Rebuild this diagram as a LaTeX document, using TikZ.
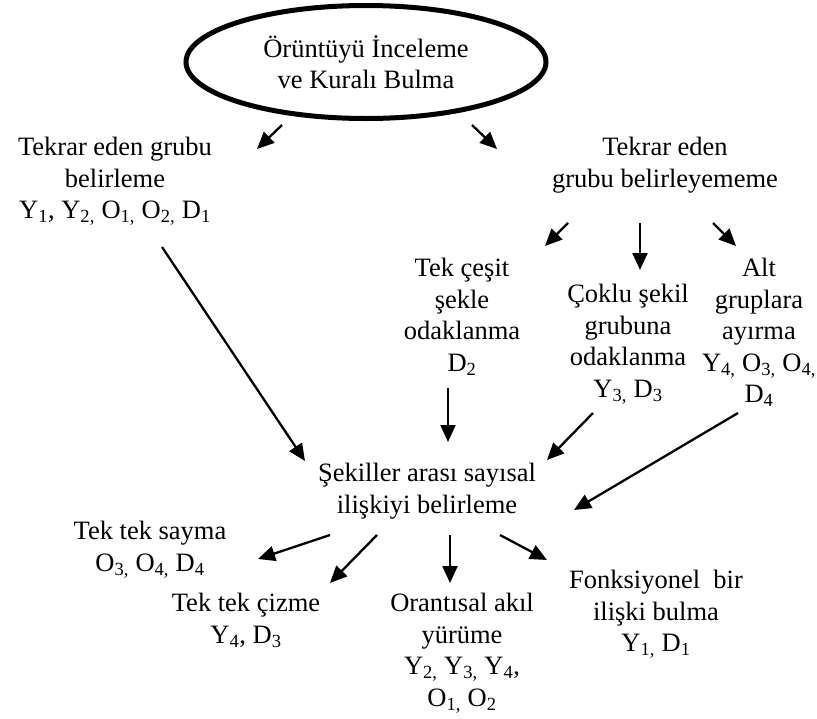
\documentclass[tikz,border=0pt]{standalone}
\usepackage{fontspec}
\setmainfont{Liberation Serif}
\usetikzlibrary{shapes.geometric,arrows.meta}
\newcommand{\sbs}[1]{\textsubscript{#1}}
\tikzset{
  lbl/.style={anchor=north, align=center, inner sep=0pt,
    font=\fontsize{26.5}{31.5}\selectfont, execute at begin node=\strut},
  arr/.style={line width=2.3pt, -{Triangle[length=17pt,width=15pt]}},
}
\begin{document}
\begin{tikzpicture}[x=1pt,y=-1pt]
\useasboundingbox (0,0) rectangle (817,718);

% start of the process
\node[ellipse, draw, line width=5pt, minimum width=360pt, minimum height=113pt,
      align=center, inner sep=0pt, font=\fontsize{26.5}{31.5}\selectfont]
  (top) at (366,62) {Örüntüyü İnceleme\\ve Kuralı Bulma};

% first level
\node[lbl] (found) at (115,159-21.7) {Tekrar eden grubu\\belirleme\\Y\sbs{1}, Y\sbs{2,} O\sbs{1,} O\sbs{2,} D\sbs{1}};
\node[lbl] (notfound) at (665,159-21.7) {Tekrar eden\\grubu belirleyememe};

% strategies when no repeating group is found
\node[lbl] (single) at (462,280-21.7) {Tek çeşit\\şekle\\odaklanma\\D\sbs{2}};
\node[lbl] (multi) at (628,306-21.7) {Çoklu şekil\\grubuna\\odaklanma\\Y\sbs{3,} D\sbs{3}};
\node[lbl] (sub) at (759,280-21.7) {Alt\\gruplara\\ayırma\\Y\sbs{4,} O\sbs{3,} O\sbs{4,}\\D\sbs{4}};

% numeric relation
\node[lbl] (rel) at (427,485-21.7) {Şekiller arası sayısal\\ilişkiyi belirleme};

% outcomes
\node[lbl] (count) at (150,543-21.7) {Tek tek sayma\\O\sbs{3,} O\sbs{4,} D\sbs{4}};
\node[lbl] (draw) at (246,615-21.7) {Tek tek çizme\\Y\sbs{4}, D\sbs{3}};
\node[lbl] (prop) at (462,615-21.7) {Orantısal akıl\\yürüme\\Y\sbs{2,} Y\sbs{3,} Y\sbs{4},\\O\sbs{1,} O\sbs{2}};
\node[lbl] (func) at (656,592-21.7) {Fonksiyonel\ \ bir\\ilişki bulma\\Y\sbs{1,} D\sbs{1}};

% connector end points
\coordinate (t1) at (282,125);  \coordinate (h1) at (257,149);
\coordinate (t2) at (472,125);  \coordinate (h2) at (497,149);
\coordinate (t3) at (568,223);  \coordinate (h3) at (545,246);
\coordinate (t4) at (640,223);  \coordinate (h4) at (640,270);
\coordinate (t5) at (713,223);  \coordinate (h5) at (736,246);
\coordinate (t6) at (162,247);  \coordinate (h6) at (305,461);
\coordinate (t7) at (448,388);  \coordinate (h7) at (448,442);
\coordinate (t8) at (593,413);  \coordinate (h8) at (547,460);
\coordinate (t9) at (738,413);  \coordinate (h9) at (574,510);
\coordinate (ta) at (330,535);  \coordinate (ha) at (258,559);
\coordinate (tb) at (377,535);  \coordinate (hb) at (330,583);
\coordinate (tc) at (450,535);  \coordinate (hc) at (450,583);
\coordinate (td) at (500,535);  \coordinate (hd) at (547,560);

\draw[arr] (t1) -- (h1);
\draw[arr] (t2) -- (h2);
\draw[arr] (t3) -- (h3);
\draw[arr] (t4) -- (h4);
\draw[arr] (t5) -- (h5);
\draw[arr] (t6) -- (h6);
\draw[arr] (t7) -- (h7);
\draw[arr] (t8) -- (h8);
\draw[arr] (t9) -- (h9);
\draw[arr] (ta) -- (ha);
\draw[arr] (tb) -- (hb);
\draw[arr] (tc) -- (hc);
\draw[arr] (td) -- (hd);
\end{tikzpicture}
\end{document}
